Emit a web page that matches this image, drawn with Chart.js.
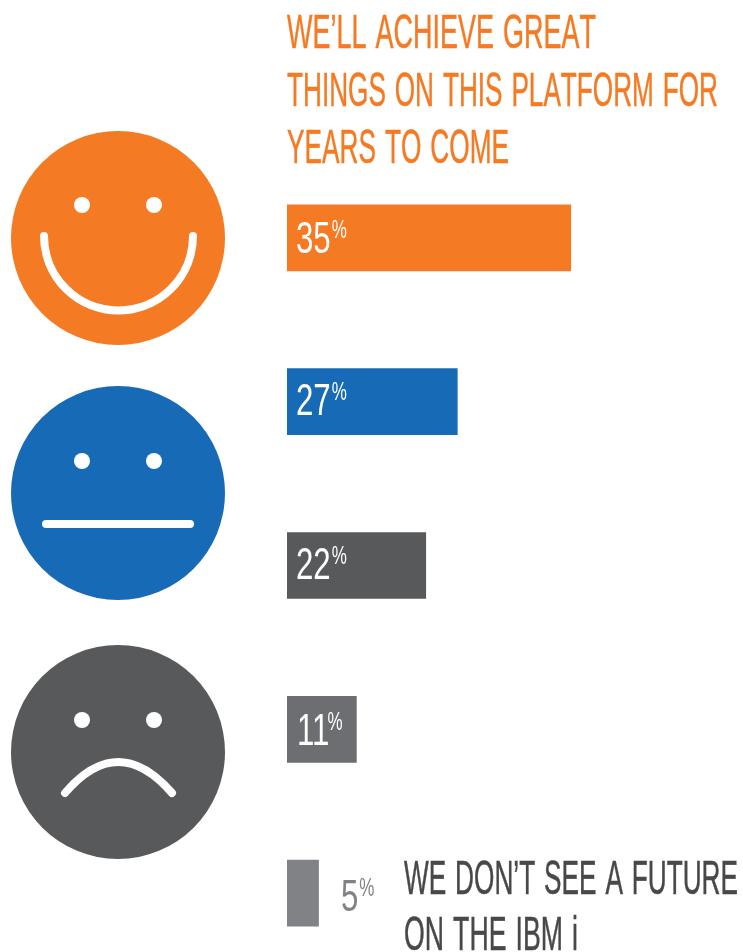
<!DOCTYPE html>
<html>
<head>
<meta charset="utf-8">
<title>IBM i future survey</title>
<script src="https://cdn.jsdelivr.net/npm/chart.js@4/dist/chart.umd.min.js"></script>
<style>
    html, body { margin: 0; padding: 0; width: 743px; height: 952px; overflow: hidden; background: #fff; }
    #wrap { position: relative; width: 743px; height: 952px; overflow: hidden; }
    #faces { position: absolute; left: 0; top: 0; }
    #barChart { position: absolute; left: 0; top: 0; }
    .line {
        position: absolute;
        font-family: "Liberation Sans", sans-serif;
        font-size: 48px;
        line-height: 48px;
        word-spacing: 3px;
        font-kerning: none;
        white-space: nowrap;
        transform-origin: 0 0;
        -webkit-text-stroke: 0.5px currentColor;
    }
    .title { color: #f47a23; }
    .caption { color: #48484a; }
</style>
</head>
<body>
<div id="wrap">
    <svg id="faces" width="743" height="952">
        <circle cx="118" cy="238" r="107" fill="#f47a23"/>
        <circle cx="82" cy="205" r="8" fill="#fff"/>
        <circle cx="154" cy="205" r="8" fill="#fff"/>
        <path d="M44 236 A74.5 74.5 0 0 0 193 236" fill="none" stroke="#fff" stroke-width="8" stroke-linecap="round"/>

        <circle cx="118" cy="493" r="107" fill="#176ab5"/>
        <circle cx="82" cy="461" r="8" fill="#fff"/>
        <circle cx="154" cy="461" r="8" fill="#fff"/>
        <path d="M46 524 H190" fill="none" stroke="#fff" stroke-width="8" stroke-linecap="round"/>

        <circle cx="118" cy="752" r="107" fill="#58595b"/>
        <circle cx="82" cy="720" r="8" fill="#fff"/>
        <circle cx="154" cy="720" r="8" fill="#fff"/>
        <path d="M65 793 Q118 731 172 793" fill="none" stroke="#fff" stroke-width="8" stroke-linecap="round"/>
    </svg>
    <canvas id="barChart" width="743" height="975"></canvas>
    <div class="line title" data-w="309" style="left:287px;top:8px">WE’LL ACHIEVE GREAT</div>
    <div class="line title" data-w="431" style="left:287px;top:66px">THINGS ON THIS PLATFORM FOR</div>
    <div class="line title" data-w="222" style="left:287px;top:123px">YEARS TO COME</div>
    <div class="line caption" data-w="334" style="left:404px;top:854px">WE DON’T SEE A FUTURE</div>
    <div class="line caption" data-w="174" style="left:404px;top:910px">ON THE IBM i</div>
</div>
<script>
// Answers as printed on the picture
const answers = ['Great things for years to come', 'Neutral 27', 'Neutral 22', 'Unhappy', 'No future on the IBM i'];
const percentLabels = ['35', '27', '22', '11', '5'];

// Bar lengths as drawn. The 35% bar is drawn longer than its label in the original
const barLengths = [45, 27, 22, 11, 5];
const barColors = ['#f47a23', '#176ab5', '#58595b', '#6d6e71', '#808285'];

// Label placement relative to each bar
const labelX = [9, 9, 9, 10, 54];
const labelY = [15, 13, 13, 16, 18];
const percentShift = [0, 0, 0, -3, 0];
const labelColors = ['#fff', '#fff', '#fff', '#fff', '#808285'];

// Stretch the html text lines to the widths in the picture
document.querySelectorAll('.line').forEach(function (el) {
    const w = el.getBoundingClientRect().width;
    el.style.transform = 'scaleX(' + (parseFloat(el.dataset.w) / w) + ')';
});

// Draws "35" with a small % next to it on each bar
const percentPlugin = {
    id: 'percentLabels',
    afterDatasetsDraw(chart) {
        const ctx = chart.ctx;
        const bars = chart.getDatasetMeta(0).data;
        const left = chart.chartArea.left;
        bars.forEach(function (bar, i) {
            const x = left + labelX[i];
            const y = bar.y + labelY[i];
            ctx.save();
            ctx.fillStyle = labelColors[i];
            ctx.textBaseline = 'alphabetic';
            ctx.textAlign = 'left';

            ctx.font = '44px "Liberation Sans", sans-serif';
            const digitScale = 0.71;
            const digits = percentLabels[i];
            const w = ctx.measureText(digits).width * digitScale;
            ctx.save();
            ctx.translate(x, y);
            ctx.scale(digitScale, 1);
            ctx.fillText(digits, 0, 0);
            ctx.restore();

            ctx.font = '25px "Liberation Sans", sans-serif';
            ctx.save();
            ctx.translate(x + w + 1 + percentShift[i], y - 15);
            ctx.scale(0.68, 1);
            ctx.fillText('%', 0, 0);
            ctx.restore();
            ctx.restore();
        });
    }
};

const ctx1 = document.getElementById('barChart').getContext('2d');
const barChart = new Chart(ctx1, {
    type: 'bar',
    data: {
        labels: answers,
        datasets: [{
            data: barLengths,
            backgroundColor: barColors,
            borderWidth: 0,
            barThickness: 66
        }]
    },
    options: {
        indexAxis: 'y',
        responsive: false,
        animation: false,
        layout: { padding: { left: 287, top: 156, right: 0, bottom: 0 } },
        plugins: {
            legend: { display: false },
            title: { display: false },
            tooltip: { enabled: false }
        },
        scales: {
            x: { display: false, min: 0, max: 72.3 },
            y: { display: false }
        }
    },
    plugins: [percentPlugin]
});
</script>
</body>
</html>
